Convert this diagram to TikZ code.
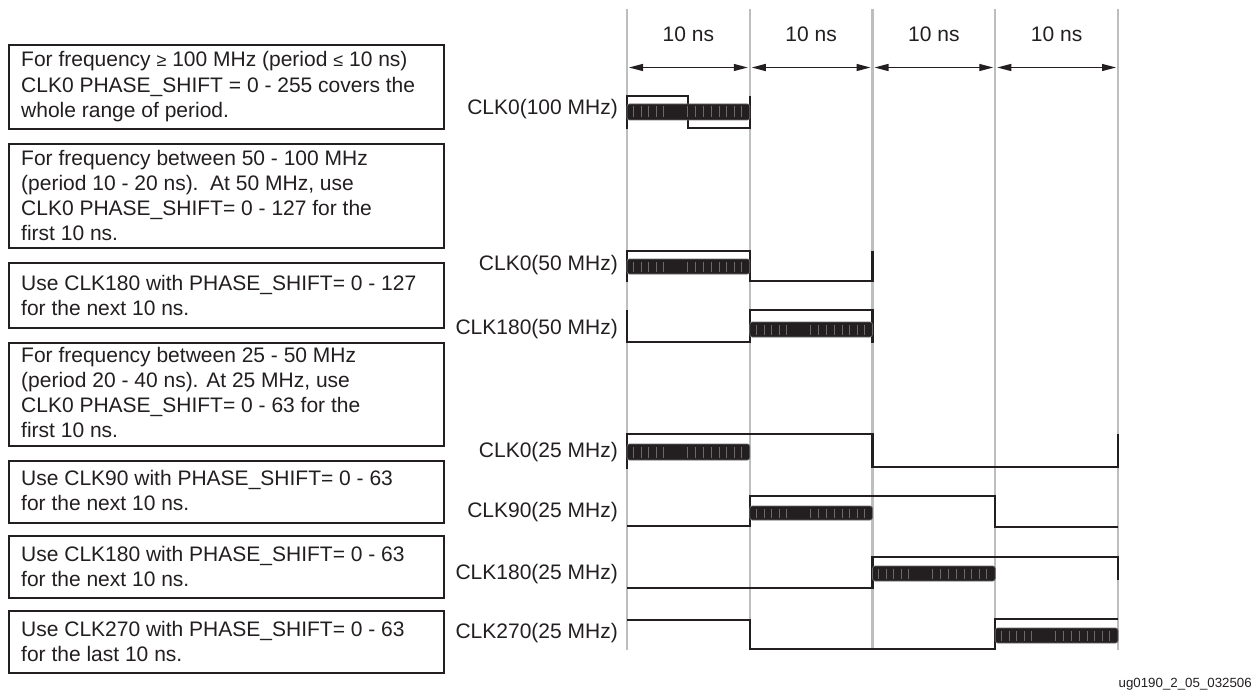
\documentclass[tikz,border=0pt]{standalone}
\usepackage{fontspec}
\setmainfont{Liberation Sans}
\usetikzlibrary{arrows.meta}
\definecolor{ink}{HTML}{231F20}
\definecolor{gridgray}{HTML}{BCBEC0}
\definecolor{tickgray}{HTML}{6A6A6C}
\newcommand{\psbar}[4]{%
  \fill[ink,rounded corners=2.5pt] (#1,#3) rectangle (#2,#4);
  \foreach \o in {6,14,21,29,36,60,68,76,84,92,99,107,114}{
    \draw[tickgray,line width=0.5pt] ({#1+\o},{#3+2.5}) -- ({#1+\o},{#4-2.5});
  }
  \draw[tickgray,line width=0.7pt,rounded corners=2.5pt] (#1,#3) rectangle (#2,#4);
}
\begin{document}
\begin{tikzpicture}[x=1pt,y=-1pt,
  notebox/.style={draw=ink,line width=2.2pt,minimum width=435pt,anchor=north west,inner sep=0pt},
  notetext/.style={anchor=base west,inner sep=0pt,text=ink,font=\fontsize{21}{25.3}\selectfont},
  siglabel/.style={anchor=base east,inner sep=0pt,text=ink,font=\fontsize{21}{25}\selectfont},
  nslabel/.style={anchor=base,inner sep=0pt,text=ink,font=\fontsize{21}{25}\selectfont},
  wave/.style={draw=ink,line width=2.3pt},
  gridline/.style={draw=gridgray,line width=2.4pt},
  spanarrow/.style={draw=ink,line width=1.3pt,{Triangle[length=14pt,width=7pt]}-{Triangle[length=14pt,width=7pt]}}
]
\useasboundingbox (0,0) rectangle (1256,690);
\fill[white] (0,0) rectangle (1256,690);

% grid lines
\foreach \i/\x in {0/627,1/749.75,2/872.5,3/995.25,4/1118}{
  \coordinate (gt\i) at (\x,9);
  \coordinate (gb\i) at (\x,650);
  \coordinate (ga\i) at (\x,67.5);
  \draw[gridline] (gt\i) -- (gb\i);
}

% interval arrows and labels
\foreach \a/\b in {0/1,1/2,2/3,3/4}{
  \draw[spanarrow] ([xshift=2pt]ga\a) -- ([xshift=-2pt]ga\b);
  \path (ga\a) -- (ga\b) coordinate[pos=0.5] (m\a);
  \node[nslabel] (ns\a) at ([yshift=26pt]m\a) {10 ns};
}

% note boxes
\node[notebox,minimum height=84pt] (b1) at (8,44) {};
\node[notebox,minimum height=104pt] (b2) at (8,143) {};
\node[notebox,minimum height=65pt] (b3) at (8,262) {};
\node[notebox,minimum height=103pt] (b4) at (8,342) {};
\node[notebox,minimum height=62pt] (b5) at (8,460) {};
\node[notebox,minimum height=62pt] (b6) at (8,535) {};
\node[notebox,minimum height=62pt] (b7) at (8,610) {};

\node[notetext] (t1) at (21,67) {\parbox[t]{420pt}{For frequency {\fontsize{18}{20}\selectfont≥} 100 MHz (period {\fontsize{18}{20}\selectfont≤} 10 ns)\\CLK0 PHASE\_SHIFT = 0 - 255 covers the\\whole range of period.}};
\node[notetext] (t2) at (21,165) {\parbox[t]{420pt}{For frequency between 50 - 100 MHz\\(period 10 - 20 ns).\ \ At 50 MHz, use\\CLK0 PHASE\_SHIFT= 0 - 127 for the\\first 10 ns.}};
\node[notetext] (t3) at (21,290) {\parbox[t]{420pt}{Use CLK180 with PHASE\_SHIFT= 0 - 127\\for the next 10 ns.}};
\node[notetext] (t4) at (21,362) {\parbox[t]{420pt}{For frequency between 25 - 50 MHz\\(period 20 - 40 ns). At 25 MHz, use\\CLK0 PHASE\_SHIFT= 0 - 63 for the\\first 10 ns.}};
\node[notetext] (t5) at (21,485) {\parbox[t]{420pt}{Use CLK90 with PHASE\_SHIFT= 0 - 63\\for the next 10 ns.}};
\node[notetext] (t6) at (21,561) {\parbox[t]{420pt}{Use CLK180 with PHASE\_SHIFT= 0 - 63\\for the next 10 ns.}};
\node[notetext] (t7) at (21,636) {\parbox[t]{420pt}{Use CLK270 with PHASE\_SHIFT= 0 - 63\\for the last 10 ns.}};

% signal labels
\node[siglabel] (l1) at (618,115) {CLK0(100 MHz)};
\node[siglabel] (l2) at (618,270) {CLK0(50 MHz)};
\node[siglabel] (l3) at (618,334) {CLK180(50 MHz)};
\node[siglabel] (l4) at (618,457) {CLK0(25 MHz)};
\node[siglabel] (l5) at (618,517) {CLK90(25 MHz)};
\node[siglabel] (l6) at (618,579) {CLK180(25 MHz)};
\node[siglabel] (l7) at (618,638) {CLK270(25 MHz)};

% waveforms
\draw[wave] (627,129) -- (627,96) -- (688,96) -- (688,128) -- (749.75,128) -- (749.75,96);
\draw[wave] (627,282) -- (627,251) -- (749.75,251) -- (749.75,281) -- (872.5,281) -- (872.5,251);
\draw[wave] (627,310) -- (627,342) -- (749.75,342) -- (749.75,310) -- (872.5,310) -- (872.5,343);
\draw[wave] (627,469) -- (627,434) -- (872.5,434) -- (872.5,467) -- (1118,467) -- (1118,434);
\draw[wave] (627,526) -- (749.75,526) -- (749.75,496) -- (995.25,496) -- (995.25,527) -- (1118,527);
\draw[wave] (627,588) -- (872.5,588) -- (872.5,557) -- (1118,557) -- (1118,580);
\draw[wave] (627,620) -- (749.75,620) -- (749.75,649) -- (995.25,649) -- (995.25,619) -- (1118,619);

% phase-shift bars
\psbar{627}{749.75}{104}{120}
\psbar{627}{749.75}{259}{274}
\psbar{749.75}{872.5}{322}{337}
\psbar{627}{749.75}{444}{460}
\psbar{749.75}{872.5}{506}{520}
\psbar{872.5}{995.25}{566}{581}
\psbar{995.25}{1118}{628}{643}

% footer
\node[anchor=base east,inner sep=0pt,text=ink,font=\fontsize{13.3}{15}\selectfont] (ft) at (1252,687) {ug0190\_2\_05\_032506};
\end{tikzpicture}
\end{document}
